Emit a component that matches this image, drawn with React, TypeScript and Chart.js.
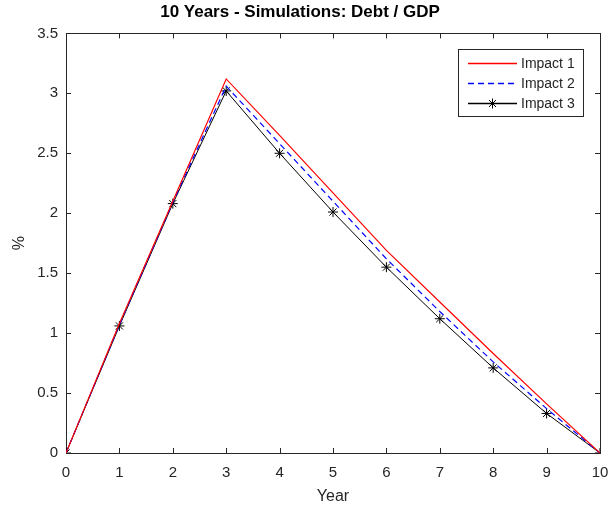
import React, { useEffect, useRef } from "react";
import { Chart, registerables } from "chart.js";

Chart.register(...registerables);

const years = [0, 1, 2, 3, 4, 5, 6, 7, 8, 9, 10];
const impact1 = [0, 1.08, 2.1, 3.12, 2.65, 2.17, 1.69, 1.26, 0.83, 0.41, 0];
const impact2 = [0, 1.07, 2.09, 3.06, 2.58, 2.1, 1.62, 1.18, 0.76, 0.37, 0];
const impact3 = [0, 1.06, 2.08, 3.02, 2.5, 2.01, 1.55, 1.12, 0.71, 0.33, 0];
const yTicks = [0, 0.5, 1, 1.5, 2, 2.5, 3, 3.5];
const seriesLabels = ["Impact 1", "Impact 2", "Impact 3"];
const seriesColors = ["#ff0000", "#0000ff", "#000000"];
const seriesDash = [[], [6, 4], []];

const AXIS = "#262626";
const FONT = "Liberation Sans, Arial, sans-serif";

function drawStar(ctx: CanvasRenderingContext2D, cx: number, cy: number, r: number) {
  ctx.beginPath();
  ctx.moveTo(cx - r, cy); ctx.lineTo(cx + r, cy);
  ctx.moveTo(cx, cy - r); ctx.lineTo(cx, cy + r);
  const d = r * 0.7071;
  ctx.moveTo(cx - d, cy - d); ctx.lineTo(cx + d, cy + d);
  ctx.moveTo(cx - d, cy + d); ctx.lineTo(cx + d, cy - d);
  ctx.stroke();
}

const boxPlugin = {
  id: "matlabBox",
  beforeDatasetsDraw(chart: any) {
    const { ctx, chartArea: a, scales } = chart;
    ctx.save();
    ctx.strokeStyle = AXIS;
    ctx.lineWidth = 1;
    ctx.strokeRect(Math.round(a.left) + 0.5, Math.round(a.top) + 0.5, Math.round(a.right - a.left), Math.round(a.bottom - a.top));
    const tl = 5;
    ctx.beginPath();
    years.forEach((v) => {
      const x = Math.round(scales.x.getPixelForValue(v)) + 0.5;
      ctx.moveTo(x, a.bottom);
      ctx.lineTo(x, a.bottom - tl);
      ctx.moveTo(x, a.top);
      ctx.lineTo(x, a.top + tl);
    });
    yTicks.forEach((v) => {
      const y = Math.round(scales.y.getPixelForValue(v)) + 0.5;
      ctx.moveTo(a.left, y);
      ctx.lineTo(a.left + tl, y);
      ctx.moveTo(a.right, y);
      ctx.lineTo(a.right - tl, y);
    });
    ctx.stroke();
    ctx.restore();
  },
  afterDraw(chart: any) {
    const { ctx } = chart;
    const x0 = 458, y0 = 49, w = 125, h = 67;
    ctx.save();
    ctx.fillStyle = "#fff";
    ctx.fillRect(x0, y0, w, h);
    ctx.strokeStyle = AXIS;
    ctx.lineWidth = 1;
    ctx.setLineDash([]);
    ctx.strokeRect(x0 + 0.5, y0 + 0.5, w, h);
    const rows = [63, 83, 103];
    seriesLabels.forEach((label, i) => {
      const y = rows[i] + 0.5;
      ctx.strokeStyle = seriesColors[i];
      ctx.lineWidth = 1.4;
      ctx.setLineDash(seriesDash[i]);
      ctx.beginPath();
      ctx.moveTo(468, y);
      ctx.lineTo(517, y);
      ctx.stroke();
      ctx.setLineDash([]);
      ctx.lineWidth = 1;
      if (i === 2) drawStar(ctx, 492.5, y, 5);
      ctx.fillStyle = AXIS;
      ctx.font = `14px ${FONT}`;
      ctx.textBaseline = "middle";
      ctx.textAlign = "left";
      ctx.fillText(label, 521, rows[i] + 1);
    });
    ctx.restore();
  },
};

export default function App() {
  const ref = useRef<HTMLCanvasElement | null>(null);
  useEffect(() => {
    document.body.style.margin = "0";
    const chart = new Chart(ref.current!, {
      type: "line",
      data: {
        datasets: [
          {
            label: seriesLabels[0],
            data: years.map((x, i) => ({ x, y: impact1[i] })),
            borderColor: seriesColors[0],
            borderWidth: 1.2,
            pointRadius: 0,
            fill: false,
          },
          {
            label: seriesLabels[1],
            data: years.map((x, i) => ({ x, y: impact2[i] })),
            borderColor: seriesColors[1],
            borderWidth: 1.2,
            borderDash: seriesDash[1],
            pointRadius: 0,
            fill: false,
          },
          {
            label: seriesLabels[2],
            data: years.map((x, i) => ({ x, y: impact3[i] })),
            borderColor: seriesColors[2],
            borderWidth: 1,
            pointStyle: "star",
            pointRadius: 5,
            pointBorderWidth: 1,
            pointBorderColor: "#000000",
            pointBackgroundColor: "#000000",
            fill: false,
          },
        ],
      },
      options: {
        animation: false,
        responsive: false,
        layout: { padding: { left: 0, right: 13, top: 0, bottom: 0 } },
        plugins: {
          legend: { display: false },
          tooltip: { enabled: false },
          title: {
            display: true,
            text: "10 Years - Simulations: Debt / GDP",
            color: "#000",
            font: { family: FONT, size: 17, weight: "bold" },
            padding: { top: 2, bottom: 11 },
          },
        },
        scales: {
          x: {
            type: "linear",
            min: 0,
            max: 10,
            afterFit: (s: any) => { s.height = 53; s.paddingRight = 0; s.paddingLeft = 0; },
            afterBuildTicks: (s: any) => { s.ticks = years.map((v) => ({ value: v })); },
            grid: { display: false, drawTicks: false },
            border: { display: false },
            ticks: { color: AXIS, font: { family: FONT, size: 15 }, padding: 11, maxRotation: 0, callback: (v: any) => String(v) },
            title: { display: true, text: "Year", color: AXIS, font: { family: FONT, size: 16 }, padding: { top: 0, bottom: 0 } },
          },
          y: {
            type: "linear",
            min: 0,
            max: 3.5,
            afterFit: (s: any) => { s.width = 66; s.paddingTop = 0; s.paddingBottom = 0; },
            afterBuildTicks: (s: any) => { s.ticks = yTicks.map((v) => ({ value: v })); },
            grid: { display: false, drawTicks: false },
            border: { display: false },
            ticks: { color: AXIS, font: { family: FONT, size: 15 }, padding: 8, callback: (v: any) => String(v) },
            title: { display: true, text: "%", color: AXIS, font: { family: FONT, size: 16 }, padding: { top: 10, bottom: 0 } },
          },
        },
      },
      plugins: [boxPlugin],
    } as any);
    return () => chart.destroy();
  }, []);
  return <canvas ref={ref} width={613} height={506} style={{ display: "block" }} />;
}
